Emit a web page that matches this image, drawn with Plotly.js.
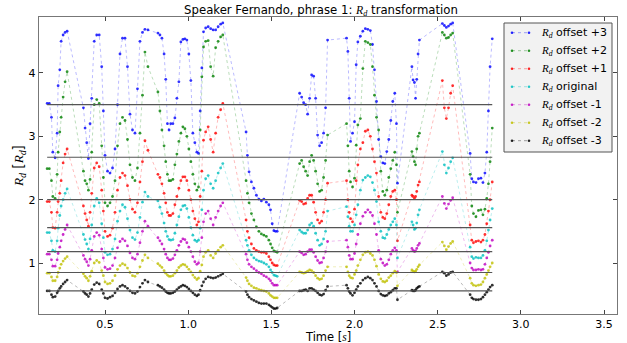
<!DOCTYPE html>
<html>
<head>
<meta charset="utf-8">
<script src="https://cdn.plot.ly/plotly-3.0.1.min.js"></script>
<style>html,body{margin:0;padding:0;background:#fff;}#chart{width:627px;height:343px;}</style>
</head>
<body>
<div id="chart"></div>
<script>
// Frame times (s), voiced segments in order
const time = [
  0.152, 0.165, 0.178, 0.186, 0.2, 0.212, 0.218, 0.228, 0.236, 0.248, 0.26, 0.272,
  0.37, 0.38, 0.39, 0.4, 0.41, 0.42, 0.435, 0.45, 0.465, 0.48, 0.49, 0.5, 0.515, 0.53, 0.545, 0.56, 0.575, 0.59, 0.605, 0.62, 0.635, 0.65, 0.665, 0.68, 0.695, 0.71, 0.725, 0.74, 0.758,
  0.818, 0.83, 0.842, 0.855, 0.865, 0.875, 0.885, 0.895, 0.908, 0.92, 0.932, 0.944, 0.956, 0.968, 0.98, 0.992, 1.004, 1.016, 1.028, 1.04, 1.052, 1.062, 1.072, 1.082, 1.092, 1.105, 1.12, 1.135, 1.15, 1.165, 1.18, 1.195, 1.208,
  1.348, 1.356, 1.366, 1.38, 1.395, 1.41, 1.425, 1.44, 1.455, 1.47, 1.485, 1.495, 1.505, 1.515, 1.525, 1.535,
  1.67, 1.682, 1.694, 1.706, 1.718, 1.73, 1.742, 1.754, 1.766, 1.778, 1.79, 1.802, 1.814, 1.826, 1.838,
  1.952, 1.96, 1.968, 1.976, 1.988, 2.0, 2.01, 2.02, 2.035, 2.05, 2.065, 2.08, 2.095, 2.108, 2.12, 2.132, 2.145, 2.158, 2.17, 2.182, 2.194, 2.206, 2.218, 2.23, 2.242, 2.252, 2.258,
  2.345, 2.352, 2.36, 2.367, 2.374, 2.382, 2.39,
  2.528, 2.54, 2.552, 2.565, 2.578, 2.59,
  2.695, 2.705, 2.715, 2.73, 2.745, 2.76, 2.772, 2.784, 2.795, 2.805, 2.815, 2.828
];

const rdPlus3 = [
  3.52, 3.52, 3.3, 2.75, 2.66, 3.05, 3.8, 4.05, 4.5, 4.6, 4.64, 4.66,
  3.45, 3.13, 2.9, 2.65, 3.2, 3.6, 4.5, 4.6, 4.6, 4.1, 3.4, 2.7, 2.45, 2.42, 2.5, 2.8, 3.5, 4.3, 4.55, 4.55, 4.1, 3.35, 3.1, 3.05, 3.75, 4.5, 4.64, 4.69, 4.68,
  4.63, 4.6, 4.55, 4.3, 3.9, 3.2, 3.1, 3.2, 3.2, 3.29, 3.6, 3.86, 4.49, 4.53, 4.54, 4.52, 4.3, 3.88, 3.05, 2.9, 2.75, 2.73, 3.4, 4.08, 4.65, 4.71, 4.73, 4.7, 4.68, 4.68, 4.73, 4.77, 4.79,
  3.07, 2.7, 2.44, 2.28, 2.18, 2.07, 2.01, 1.98, 2.01, 1.96, 1.92, 1.84, 1.62, 1.51, 1.5, 1.5,
  3.68, 3.62, 3.53, 3.5, 3.35, 3.6, 3.97, 3.95, 3.6, 3.02, 2.85, 2.9, 3.05, 3.45, 4.52,
  4.55, 4.34, 3.6, 2.92, 3.05, 3.23, 4.13, 4.49, 4.58, 4.66, 4.7, 4.69, 4.67, 4.45, 4.05, 3.55, 2.95, 2.68, 2.58, 2.57, 2.76, 2.95, 3.25, 3.55, 3.68, 3.2, 2.26,
  4.1, 3.89, 3.85, 3.6, 3.9, 4.3, 4.52,
  4.78, 4.75, 4.72, 4.74, 4.77, 4.79,
  2.73, 2.33, 2.28, 2.27, 2.33, 2.34, 2.27, 2.42, 2.75, 3.4, 4.1, 4.54
];

const rdPlus2 = [
  2.49, 2.49, 2.3, 2.05, 2.02, 2.4, 2.75, 3.07, 3.3, 3.62, 3.86, 4.02,
  2.45, 2.3, 2.25, 2.15, 2.32, 2.75, 3.5, 3.58, 3.52, 2.85, 2.35, 1.95, 1.9, 1.95, 2.05, 2.3, 2.85, 3.2, 3.3, 3.25, 2.95, 2.55, 2.35, 2.3, 2.5, 3.05, 3.65, 4.33, 4.1,
  3.7, 3.4, 3.1, 2.85, 2.6, 2.4, 2.3, 2.3, 2.32, 2.55, 2.72, 2.92, 3.05, 3.15, 3.12, 3.0, 2.8, 2.6, 2.4, 2.25, 2.15, 2.2, 3.1, 3.94, 4.41, 4.5, 4.51, 4.1, 3.95, 4.4, 4.5, 4.57, 4.6,
  2.3, 2.1, 1.95, 1.78, 1.68, 1.57, 1.5, 1.46, 1.44, 1.42, 1.36, 1.3, 1.24, 1.19, 1.18, 1.17,
  2.57, 2.62, 2.52, 2.45, 2.38, 2.6, 2.7, 2.62, 2.45, 2.25, 2.13, 2.15, 2.35, 2.62, 3.02,
  3.2, 2.85, 2.45, 2.28, 2.2, 2.34, 2.86, 3.18, 3.28, 4.07, 4.5, 4.48, 4.45, 4.1, 3.65, 3.3, 3.1, 2.45, 2.13, 2.07, 2.15, 2.35, 2.49, 2.62, 2.75, 2.55, 1.8,
  2.76, 2.68, 2.6, 2.55, 2.8, 3.0, 3.05,
  4.64, 4.6, 4.55, 4.56, 4.6, 4.63,
  2.4, 1.9, 1.78, 1.73, 1.83, 1.84, 1.76, 1.85, 2.02, 2.25, 2.6, 3.13
];

const rdPlus1 = [
  1.97, 1.97, 1.8, 1.56, 1.55, 1.8, 1.97, 2.1, 2.3, 2.58, 2.72, 2.8,
  1.9, 1.78, 1.68, 1.58, 1.8, 2.1, 2.5, 2.58, 2.52, 2.15, 1.82, 1.5, 1.42, 1.44, 1.55, 1.8, 2.15, 2.35, 2.42, 2.38, 2.22, 2.0, 1.85, 1.8, 1.95, 2.28, 2.6, 2.93, 2.78,
  2.4, 2.35, 2.25, 2.1, 1.95, 1.8, 1.75, 1.75, 1.78, 1.92, 2.05, 2.18, 2.3, 2.36, 2.36, 2.3, 2.15, 2.0, 1.82, 1.7, 1.6, 1.65, 2.05, 2.45, 2.94, 3.07, 3.15, 2.95, 2.75, 3.05, 3.3, 3.42, 3.52,
  1.68, 1.5, 1.4, 1.3, 1.23, 1.2, 1.18, 1.17, 1.17, 1.15, 1.1, 1.05, 1.0, 0.97, 0.96, 0.96,
  1.99, 1.97, 1.93, 1.94, 2.02, 2.07, 2.07, 1.96, 1.8, 1.68, 1.63, 1.66, 1.8, 2.0, 2.26,
  2.3, 2.0, 1.8, 1.7, 1.65, 1.85, 2.3, 2.55, 2.8, 2.9, 3.08, 3.1, 3.0, 2.8, 2.6, 2.42, 2.05, 1.8, 1.72, 1.7, 1.78, 1.92, 2.05, 2.13, 2.15, 2.0, 1.35,
  2.07, 2.05, 2.02, 2.05, 2.13, 2.23, 2.28,
  3.88, 3.45, 3.28, 3.45, 3.68, 3.8,
  1.6, 1.36, 1.32, 1.34, 1.35, 1.33, 1.36, 1.45, 1.62, 1.82, 2.0, 2.28
];

const rdOriginal = [
  1.48, 1.48, 1.35, 1.2, 1.18, 1.35, 1.55, 1.75, 1.9, 2.0, 2.1, 2.17,
  1.45, 1.37, 1.3, 1.22, 1.38, 1.6, 1.9, 2.02, 1.95, 1.62, 1.4, 1.17, 1.13, 1.14, 1.22, 1.38, 1.66, 1.82, 1.92, 1.88, 1.7, 1.52, 1.4, 1.37, 1.48, 1.72, 1.96, 2.12, 2.05,
  1.98, 1.88, 1.78, 1.63, 1.5, 1.42, 1.37, 1.36, 1.37, 1.47, 1.6, 1.73, 1.84, 1.9, 1.91, 1.86, 1.72, 1.56, 1.44, 1.36, 1.34, 1.36, 1.55, 1.84, 2.15, 2.33, 2.38, 2.25, 2.18, 2.3, 2.42, 2.5, 2.57,
  1.36, 1.28, 1.2, 1.13, 1.08, 1.05, 1.03, 1.02, 1.0, 0.98, 0.94, 0.89, 0.85, 0.81, 0.8, 0.79,
  1.52, 1.49, 1.47, 1.47, 1.52, 1.6, 1.63, 1.58, 1.47, 1.36, 1.28, 1.3, 1.38, 1.5, 1.82,
  1.89, 1.73, 1.58, 1.5, 1.5, 1.6, 1.76, 1.92, 2.15, 2.31, 2.35, 2.38, 2.36, 2.27, 2.15, 1.97, 1.65, 1.5, 1.4, 1.39, 1.45, 1.53, 1.6, 1.65, 1.7, 1.6, 1.08,
  1.65, 1.6, 1.53, 1.55, 1.63, 1.76, 1.84,
  2.76, 2.55, 2.42, 2.5, 2.6, 2.66,
  1.25, 1.1, 1.07, 1.09, 1.08, 1.08, 1.12, 1.2, 1.35, 1.52, 1.68, 1.86
];

const rdMinus1 = [
  1.14, 1.14, 1.05, 0.95, 0.95, 1.05, 1.15, 1.25, 1.35, 1.45, 1.53, 1.6,
  1.12, 1.06, 1.02, 0.96, 1.06, 1.2, 1.42, 1.48, 1.44, 1.22, 1.08, 0.93, 0.9, 0.91, 0.96, 1.08, 1.24, 1.34, 1.38, 1.35, 1.27, 1.16, 1.08, 1.06, 1.14, 1.32, 1.5, 1.66, 1.58,
  1.4, 1.35, 1.3, 1.22, 1.14, 1.08, 1.05, 1.05, 1.07, 1.13, 1.2, 1.28, 1.34, 1.38, 1.37, 1.32, 1.25, 1.18, 1.1, 1.02, 0.98, 1.0, 1.18, 1.4, 1.65, 1.78, 1.82, 1.7, 1.6, 1.72, 1.82, 1.9, 1.95,
  1.14, 1.05, 0.98, 0.94, 0.91, 0.88, 0.85, 0.83, 0.8, 0.78, 0.75, 0.72, 0.68, 0.65, 0.65, 0.65,
  1.18, 1.16, 1.13, 1.14, 1.18, 1.21, 1.21, 1.17, 1.1, 1.04, 1.0, 1.01, 1.08, 1.18, 1.34,
  1.36, 1.25, 1.12, 1.06, 1.06, 1.15, 1.3, 1.45, 1.62, 1.74, 1.8, 1.84, 1.8, 1.75, 1.62, 1.45, 1.2, 1.06, 1.0, 0.96, 0.98, 1.05, 1.14, 1.2, 1.24, 1.2, 0.86,
  1.23, 1.2, 1.18, 1.19, 1.23, 1.28, 1.31,
  2.05, 1.94, 1.86, 1.93, 1.99, 2.03,
  1.0, 0.92, 0.89, 0.89, 0.9, 0.89, 0.9, 0.98, 1.08, 1.17, 1.27, 1.36
];

const rdMinus2 = [
  0.84, 0.84, 0.78, 0.72, 0.72, 0.78, 0.85, 0.92, 0.98, 1.03, 1.07, 1.1,
  0.83, 0.79, 0.76, 0.72, 0.79, 0.87, 1.0, 1.04, 1.01, 0.88, 0.8, 0.7, 0.67, 0.68, 0.72, 0.8, 0.9, 0.96, 0.99, 0.97, 0.92, 0.85, 0.8, 0.79, 0.84, 0.94, 1.04, 1.13, 1.08,
  0.99, 0.96, 0.93, 0.88, 0.84, 0.81, 0.79, 0.79, 0.8, 0.84, 0.88, 0.93, 0.96, 0.98, 0.97, 0.94, 0.9, 0.86, 0.81, 0.77, 0.74, 0.76, 0.87, 0.97, 1.1, 1.17, 1.2, 1.12, 1.08, 1.15, 1.2, 1.25, 1.28,
  0.77, 0.72, 0.67, 0.64, 0.61, 0.6, 0.58, 0.57, 0.56, 0.55, 0.52, 0.49, 0.47, 0.45, 0.45, 0.45,
  0.86, 0.85, 0.84, 0.85, 0.87, 0.89, 0.88, 0.85, 0.8, 0.76, 0.74, 0.75, 0.8, 0.88, 0.94,
  0.94, 0.86, 0.8, 0.77, 0.76, 0.82, 0.88, 0.96, 1.05, 1.13, 1.17, 1.18, 1.15, 1.12, 1.05, 0.95, 0.82, 0.75, 0.71, 0.7, 0.72, 0.77, 0.8, 0.84, 0.87, 0.85, 0.64,
  0.89, 0.87, 0.86, 0.87, 0.9, 0.94, 0.97,
  1.33, 1.27, 1.21, 1.26, 1.31, 1.34,
  0.76, 0.68, 0.65, 0.64, 0.65, 0.66, 0.7, 0.76, 0.82, 0.88, 0.94, 1.0
];

const rdMinus3 = [
  0.56, 0.56, 0.5, 0.46, 0.47, 0.53, 0.56, 0.6, 0.63, 0.67, 0.7, 0.73,
  0.55, 0.52, 0.5, 0.47, 0.52, 0.58, 0.66, 0.69, 0.67, 0.58, 0.52, 0.45, 0.44, 0.46, 0.48, 0.53, 0.59, 0.63, 0.65, 0.63, 0.6, 0.56, 0.53, 0.52, 0.55, 0.62, 0.68, 0.73, 0.7,
  0.65, 0.63, 0.61, 0.58, 0.55, 0.53, 0.52, 0.52, 0.53, 0.55, 0.58, 0.61, 0.63, 0.65, 0.64, 0.62, 0.59, 0.56, 0.53, 0.5, 0.48, 0.5, 0.57, 0.64, 0.7, 0.75, 0.78, 0.77, 0.76, 0.77, 0.79, 0.81, 0.83,
  0.55, 0.5, 0.46, 0.43, 0.41, 0.39, 0.37, 0.36, 0.36, 0.36, 0.34, 0.32, 0.3, 0.28, 0.28, 0.29,
  0.56, 0.56, 0.57, 0.58, 0.56, 0.6, 0.6, 0.58, 0.56, 0.53, 0.5, 0.49, 0.51, 0.57, 0.63,
  0.65, 0.6, 0.55, 0.52, 0.49, 0.53, 0.58, 0.63, 0.68, 0.73, 0.76, 0.78, 0.76, 0.73, 0.68, 0.63, 0.56, 0.51, 0.49, 0.48, 0.49, 0.52, 0.54, 0.57, 0.6, 0.6, 0.42,
  0.57, 0.56, 0.56, 0.57, 0.6, 0.62, 0.63,
  0.86, 0.84, 0.8, 0.82, 0.85, 0.86,
  0.5, 0.45, 0.43, 0.42, 0.42, 0.43, 0.46, 0.5, 0.54, 0.58, 0.62, 0.65
];

// Mean level of each series (horizontal reference lines)
const meanLevels = [3.5, 2.67, 2.0, 1.56, 1.18, 0.85, 0.56];

const seriesNames = ['offset +3', 'offset +2', 'offset +1', 'original', 'offset -1', 'offset -2', 'offset -3'];
const seriesValues = [rdPlus3, rdPlus2, rdPlus1, rdOriginal, rdMinus1, rdMinus2, rdMinus3];
const seriesColors = [[0,0,255],[0,128,0],[255,0,0],[0,191,191],[191,0,191],[191,191,0],[0,0,0]];

const RD = '<span style="font-family:Liberation Serif"><i>R</i><sub><i>d</i></sub></span>';

const W = 627, H = 343;
const M = {l: 39, r: 10, t: 17, b: 29};
const PW = W - M.l - M.r, PH = H - M.t - M.b;
const px2paperX = px => (px - M.l) / PW;
const py2paperY = py => (H - M.b - py) / PH;

const traces = [];
seriesValues.forEach((vals, i) => {
  const c = seriesColors[i];
  if (vals.length !== time.length) console.error('length mismatch', seriesNames[i], vals.length, time.length);
  traces.push({
    type: 'scatter', mode: 'lines+markers',
    x: time, y: vals,
    name: 'Rd ' + seriesNames[i],
    line: {color: `rgba(${c[0]},${c[1]},${c[2]},0.3)`, width: 0.9, dash: 'dot'},
    marker: {color: `rgba(${c[0]},${c[1]},${c[2]},0.8)`, size: 2.8, line: {width: 0}},
    showlegend: false, hoverinfo: 'x+y'
  });
});
meanLevels.forEach(v => {
  traces.push({
    type: 'scatter', mode: 'lines',
    x: [time[0], time[time.length - 1]], y: [v, v],
    line: {color: '#555555', width: 1.2},
    showlegend: false, hoverinfo: 'skip'
  });
});

// Legend (matplotlib style: dotted sample with a marker at each end)
const shapes = [];
const annotations = [];
const LG = {x0: 504, x1: 612, y0: 23, y1: 152, first: 32.7, step: 18, s0: 512, s1: 529, tx: 539};
shapes.push({type: 'rect', xref: 'paper', yref: 'paper', layer: 'above',
  x0: px2paperX(LG.x0), x1: px2paperX(LG.x1), y0: py2paperY(LG.y1), y1: py2paperY(LG.y0),
  fillcolor: '#f2f2f2', line: {color: '#555555', width: 1}});
seriesNames.forEach((nm, i) => {
  const c = seriesColors[i];
  const yy = py2paperY(LG.first + LG.step * i);
  shapes.push({type: 'line', xref: 'paper', yref: 'paper', layer: 'above',
    x0: px2paperX(LG.s0), x1: px2paperX(LG.s1), y0: yy, y1: yy,
    line: {color: `rgba(${c[0]},${c[1]},${c[2]},0.35)`, width: 1, dash: 'dot'}});
  [LG.s0, LG.s1].forEach(sx => {
    const r = 1.3;
    shapes.push({type: 'circle', xref: 'paper', yref: 'paper', layer: 'above',
      x0: px2paperX(sx - r), x1: px2paperX(sx + r), y0: yy - r / PH, y1: yy + r / PH,
      fillcolor: `rgba(${c[0]},${c[1]},${c[2]},0.85)`, line: {width: 0}});
  });
  annotations.push({xref: 'paper', yref: 'paper', x: px2paperX(LG.tx), y: yy,
    xanchor: 'left', yanchor: 'middle', showarrow: false,
    text: RD + ' ' + nm,
    font: {family: 'DejaVu Sans', size: 11, color: '#000'}});
});

// x-axis title
annotations.push({xref: 'paper', yref: 'paper', x: px2paperX(328), y: py2paperY(336.5),
  xanchor: 'center', yanchor: 'middle', showarrow: false,
  text: 'Time [<span style="font-family:Liberation Serif"><i>s</i></span>]',
  font: {family: 'DejaVu Sans', size: 11.5, color: '#000'}});

const axisCommon = {
  showline: true, linecolor: '#777777', linewidth: 1.2, mirror: 'ticks',
  ticks: 'inside', ticklen: 4, tickcolor: '#444444', tickwidth: 1,
  showgrid: false, zeroline: false,
  tickfont: {family: 'DejaVu Sans', size: 11, color: '#000'}
};

const layout = {
  width: W, height: H,
  margin: {l: M.l, r: M.r, t: M.t, b: M.b, pad: 0},
  paper_bgcolor: '#fff', plot_bgcolor: '#fff',
  font: {family: 'DejaVu Sans', size: 11, color: '#000'},
  title: {
    text: 'Speaker Fernando, phrase 1: ' + RD + ' transformation',
    x: 0.5 - 7 / PW, xref: 'paper', xanchor: 'center',
    y: 1 - 9.5/343, yref: 'container', yanchor: 'middle',
    font: {family: 'DejaVu Sans', size: 11.7, color: '#000'}
  },
  xaxis: Object.assign({}, axisCommon, {
    range: [0.103, 3.578],
    tickvals: [0.5, 1.0, 1.5, 2.0, 2.5, 3.0, 3.5],
    ticktext: ['0.5', '1.0', '1.5', '2.0', '2.5', '3.0', '3.5']
  }),
  yaxis: Object.assign({}, axisCommon, {
    range: [0.195, 4.884],
    tickvals: [1, 2, 3, 4],
    ticktext: ['1', '2', '3', '4'],
    title: {text: RD + ' [' + RD + ']', standoff: 1,
            font: {family: 'DejaVu Sans', size: 13.5, color: '#000'}}
  }),
  shapes: shapes,
  annotations: annotations,
  showlegend: false
};

Plotly.newPlot('chart', traces, layout, {staticPlot: true, displayModeBar: false});
</script>
</body>
</html>
